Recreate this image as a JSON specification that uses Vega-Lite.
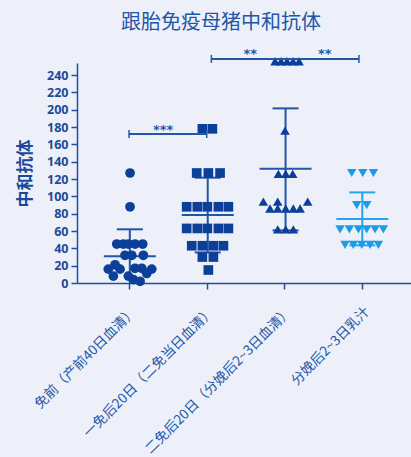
{
  "$schema": "https://vega.github.io/schema/vega-lite/v6.json",
  "autosize": {"type": "none"},
  "width": 334,
  "height": 220,
  "padding": {"left": 77, "top": 63, "right": 0, "bottom": 174},
  "background": "#edf0f8",
  "config": {
    "view": {"stroke": null},
    "font": "Noto Sans CJK SC",
    "axis": {"labelOverlap": false, "grid": false, "tickSize": 6, "tickWidth": 1.5, "tickColor": "#1f4fa0", "domainColor": "#1f4fa0", "domainWidth": 1.5},
    "axisY": {"labelFontWeight": "bold", "labelFontSize": 12.5, "labelColor": "#1b4a9a", "labelPadding": 3, "labelFont": "Noto Sans", "titleFontSize": 17, "titleFontWeight": "bold", "titleColor": "#1b4a9a", "titlePadding": 12, "titleFont": "Noto Sans CJK SC"},
    "axisX": {"labelAngle": -45, "labelAlign": "right", "labelBaseline": "top", "labelFontSize": 13.6, "labelColor": "#2256a8", "labelLimit": 0, "labelPadding": 15, "labelFont": "Noto Sans CJK SC"}
  },
  "title": {"text": "跟胎免疫母猪中和抗体", "font": "Noto Sans CJK SC", "fontSize": 20, "fontWeight": "normal", "color": "#2256a8", "anchor": "middle", "dx": -23, "offset": 15},
  "datasets": {
    "pts": [
      {"g": "免前", "x": 1.013, "v": 127}, {"g": "免前", "x": 1.013, "v": 88},
      {"g": "免前", "x": 0.842, "v": 45}, {"g": "免前", "x": 0.927, "v": 45}, {"g": "免前", "x": 0.991, "v": 45}, {"g": "免前", "x": 1.077, "v": 45}, {"g": "免前", "x": 1.176, "v": 45},
      {"g": "免前", "x": 0.948, "v": 32}, {"g": "免前", "x": 1.035, "v": 32}, {"g": "免前", "x": 1.184, "v": 32},
      {"g": "免前", "x": 0.733, "v": 16}, {"g": "免前", "x": 0.884, "v": 16}, {"g": "免前", "x": 1.077, "v": 17}, {"g": "免前", "x": 1.164, "v": 17}, {"g": "免前", "x": 1.292, "v": 16},
      {"g": "免前", "x": 0.82, "v": 21}, {"g": "免前", "x": 1.228, "v": 11}, {"g": "免前", "x": 0.798, "v": 8}, {"g": "免前", "x": 0.991, "v": 8}, {"g": "免前", "x": 1.055, "v": 4}, {"g": "免前", "x": 1.142, "v": 2},
      {"g": "一免后", "x": 1.944, "v": 178}, {"g": "一免后", "x": 2.073, "v": 178},
      {"g": "一免后", "x": 1.871, "v": 127}, {"g": "一免后", "x": 2.021, "v": 127}, {"g": "一免后", "x": 2.172, "v": 127},
      {"g": "一免后", "x": 1.742, "v": 88}, {"g": "一免后", "x": 1.879, "v": 88}, {"g": "一免后", "x": 2.008, "v": 88}, {"g": "一免后", "x": 2.15, "v": 88}, {"g": "一免后", "x": 2.279, "v": 88},
      {"g": "一免后", "x": 1.742, "v": 63}, {"g": "一免后", "x": 1.879, "v": 63}, {"g": "一免后", "x": 2.008, "v": 63}, {"g": "一免后", "x": 2.15, "v": 63}, {"g": "一免后", "x": 2.279, "v": 63},
      {"g": "一免后", "x": 1.807, "v": 43}, {"g": "一免后", "x": 1.944, "v": 43}, {"g": "一免后", "x": 2.086, "v": 43}, {"g": "一免后", "x": 2.215, "v": 43},
      {"g": "一免后", "x": 1.944, "v": 30}, {"g": "一免后", "x": 2.086, "v": 30},
      {"g": "一免后", "x": 2.021, "v": 15},
      {"g": "二免后", "x": 2.88, "v": 256}, {"g": "二免后", "x": 2.957, "v": 256}, {"g": "二免后", "x": 3.034, "v": 256}, {"g": "二免后", "x": 3.112, "v": 256}, {"g": "二免后", "x": 3.189, "v": 256},
      {"g": "二免后", "x": 3.008, "v": 176},
      {"g": "二免后", "x": 2.923, "v": 126}, {"g": "二免后", "x": 3.017, "v": 126}, {"g": "二免后", "x": 3.107, "v": 126},
      {"g": "二免后", "x": 2.729, "v": 94}, {"g": "二免后", "x": 2.914, "v": 94}, {"g": "二免后", "x": 3.3, "v": 94},
      {"g": "二免后", "x": 2.815, "v": 86}, {"g": "二免后", "x": 2.914, "v": 86}, {"g": "二免后", "x": 3.017, "v": 86}, {"g": "二免后", "x": 3.115, "v": 86}, {"g": "二免后", "x": 3.202, "v": 86},
      {"g": "二免后", "x": 2.914, "v": 62}, {"g": "二免后", "x": 3.017, "v": 62}, {"g": "二免后", "x": 3.115, "v": 62},
      {"g": "乳汁", "x": 3.867, "v": 127}, {"g": "乳汁", "x": 4.009, "v": 127}, {"g": "乳汁", "x": 4.146, "v": 127},
      {"g": "乳汁", "x": 3.932, "v": 90}, {"g": "乳汁", "x": 4.06, "v": 90},
      {"g": "乳汁", "x": 3.717, "v": 62}, {"g": "乳汁", "x": 3.837, "v": 62}, {"g": "乳汁", "x": 3.953, "v": 62}, {"g": "乳汁", "x": 4.06, "v": 62}, {"g": "乳汁", "x": 4.167, "v": 62}, {"g": "乳汁", "x": 4.274, "v": 62},
      {"g": "乳汁", "x": 3.781, "v": 44}, {"g": "乳汁", "x": 3.888, "v": 44}, {"g": "乳汁", "x": 3.996, "v": 44}, {"g": "乳汁", "x": 4.103, "v": 44}, {"g": "乳汁", "x": 4.21, "v": 44}
    ],
    "stats": [
      {"g": "免前", "gx": 1.01, "mean": 30.8, "lo": -0.5, "hi": 62},
      {"g": "一免后", "gx": 2.013, "mean": 78.5, "lo": 35.3, "hi": 121.6},
      {"g": "二免后", "gx": 3.015, "mean": 132, "lo": 60.7, "hi": 201.6},
      {"g": "乳汁", "gx": 4.003, "mean": 74, "lo": 43.5, "hi": 104.6}
    ],
    "sig": [
      {"x1": 1.0, "x2": 2.0, "y": 172},
      {"x1": 2.06, "x2": 3.96, "y": 258.7}
    ],
    "stars": [
      {"t": "***", "x": 1.44, "y": 177},
      {"t": "**", "x": 2.56, "y": 264},
      {"t": "**", "x": 3.52, "y": 264}
    ]
  },
  "layer": [
    {
      "data": {"name": "stats"},
      "mark": {"type": "rule", "strokeWidth": 2},
      "encoding": {
        "x": {"field": "gx", "type": "quantitative", "title": null, "scale": {"domain": [0.33, 4.63], "nice": false, "zero": false},
          "axis": {"values": [1, 2, 3, 4], "tickCount": 10, "labelExpr": "datum.value == 1 ? '免前（产前40日血清）' : datum.value == 2 ? '一免后20日（二免当日血清）' : datum.value == 3 ? '二免后20日（分娩后2~3日血清）' : '分娩后2~3日乳汁'"}},
        "y": {"field": "lo", "type": "quantitative", "title": "中和抗体", "scale": {"domain": [0, 254], "nice": false},
          "axis": {"values": [0, 20, 40, 60, 80, 100, 120, 140, 160, 180, 200, 220, 240], "tickCount": 30, "labelOverlap": false}},
        "y2": {"field": "hi"},
        "color": {"field": "g", "type": "nominal", "scale": {"domain": ["免前", "一免后", "二免后", "乳汁"], "range": ["#2155a8", "#2155a8", "#2155a8", "#2aa3e8"]}, "legend": null}
      }
    },
    {
      "data": {"name": "stats"},
      "mark": {"type": "tick", "orient": "horizontal", "size": 52, "thickness": 2, "opacity": 1},
      "encoding": {
        "x": {"field": "gx", "type": "quantitative"},
        "y": {"field": "mean", "type": "quantitative"},
        "color": {"field": "g", "type": "nominal", "scale": {"domain": ["免前", "一免后", "二免后", "乳汁"], "range": ["#2155a8", "#2155a8", "#2155a8", "#2aa3e8"]}, "legend": null}
      }
    },
    {
      "data": {"name": "stats"},
      "mark": {"type": "tick", "orient": "horizontal", "size": 26, "thickness": 2, "opacity": 1},
      "encoding": {
        "x": {"field": "gx", "type": "quantitative"},
        "y": {"field": "hi", "type": "quantitative"},
        "color": {"field": "g", "type": "nominal", "scale": {"domain": ["免前", "一免后", "二免后", "乳汁"], "range": ["#2155a8", "#2155a8", "#2155a8", "#2aa3e8"]}, "legend": null}
      }
    },
    {
      "data": {"name": "stats"},
      "transform": [{"filter": "datum.lo > 0"}],
      "mark": {"type": "tick", "orient": "horizontal", "size": 26, "thickness": 2, "opacity": 1},
      "encoding": {
        "x": {"field": "gx", "type": "quantitative"},
        "y": {"field": "lo", "type": "quantitative"},
        "color": {"field": "g", "type": "nominal", "scale": {"domain": ["免前", "一免后", "二免后", "乳汁"], "range": ["#2155a8", "#2155a8", "#2155a8", "#2aa3e8"]}, "legend": null}
      }
    },
    {
      "data": {"name": "pts"},
      "mark": {"type": "point", "filled": true, "opacity": 1},
      "encoding": {
        "x": {"field": "x", "type": "quantitative"},
        "y": {"field": "v", "type": "quantitative"},
        "shape": {"field": "g", "type": "nominal", "scale": {"domain": ["免前", "一免后", "二免后", "乳汁"], "range": ["circle", "square", "triangle-up", "triangle-down"]}, "legend": null},
        "size": {"field": "g", "type": "nominal", "scale": {"domain": ["免前", "一免后", "二免后", "乳汁"], "range": [95, 90, 130, 100]}, "legend": null},
        "color": {"field": "g", "type": "nominal", "scale": {"domain": ["免前", "一免后", "二免后", "乳汁"], "range": ["#0b3f98", "#0b3f98", "#0b3f98", "#1a9ce6"]}, "legend": null}
      }
    },
    {
      "data": {"name": "sig"},
      "mark": {"type": "rule", "strokeWidth": 2, "color": "#2256a8"},
      "encoding": {
        "x": {"field": "x1", "type": "quantitative"},
        "x2": {"field": "x2"},
        "y": {"field": "y", "type": "quantitative"}
      }
    },
    {
      "data": {"name": "sig"},
      "transform": [{"fold": ["x1", "x2"], "as": ["end", "ex"]}],
      "mark": {"type": "tick", "orient": "vertical", "size": 8, "thickness": 1.5, "color": "#2256a8", "opacity": 1},
      "encoding": {
        "x": {"field": "ex", "type": "quantitative"},
        "y": {"field": "y", "type": "quantitative"}
      }
    },
    {
      "data": {"name": "stars"},
      "mark": {"type": "text", "fontSize": 13, "fontWeight": "bold", "color": "#2256a8", "baseline": "middle", "font": "DejaVu Sans"},
      "encoding": {
        "x": {"field": "x", "type": "quantitative"},
        "y": {"field": "y", "type": "quantitative"},
        "text": {"field": "t"}
      }
    }
  ],
  "resolve": {"scale": {"color": "independent"}}
}
